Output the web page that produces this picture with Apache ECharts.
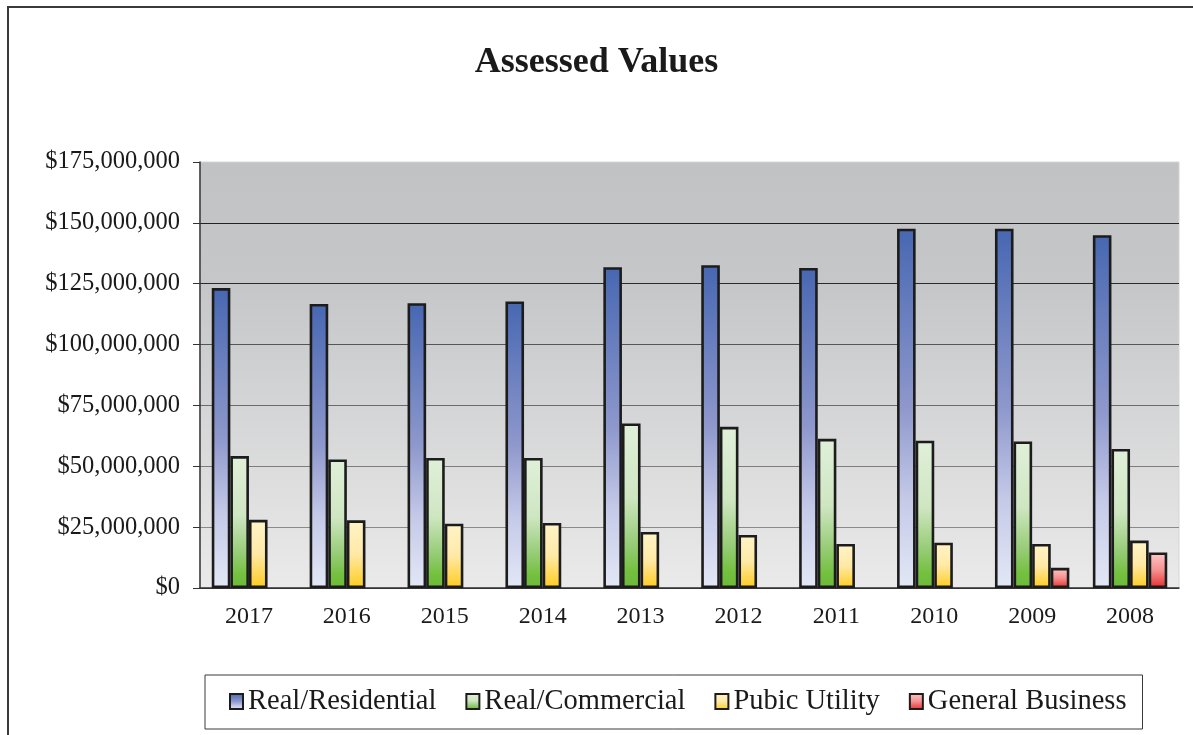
<!DOCTYPE html>
<html>
<head>
<meta charset="utf-8">
<title>Assessed Values</title>
<script src="https://cdn.jsdelivr.net/npm/echarts@6/dist/echarts.min.js"></script>
<style>
html, body {
  margin: 0;
  padding: 0;
  overflow: hidden;
  background: #fff;
}
#box {
  position: absolute;
  left: 0;
  top: 0;
  width: 1193px;
  height: 735px;
}
.frame {
  position: absolute;
  left: 7px;
  top: 6px;
  width: 1300px;
  height: 900px;
  border: 2px solid #3a3a3a;
  pointer-events: none;
}
</style>
</head>
<body>
<div id="box"></div>
<div class="frame"></div>
<script>
// values, in dollars
var years = ['2017', '2016', '2015', '2014', '2013', '2012', '2011', '2010', '2009', '2008'];
var residential = [123200000, 116700000, 117000000, 117700000, 131800000, 132600000, 131500000, 147600000, 147600000, 144900000];
var commercial = [54200000, 52800000, 53400000, 53400000, 67600000, 66200000, 61300000, 60500000, 60200000, 57100000];
var utility = [28000000, 27800000, 26400000, 26700000, 23000000, 21800000, 18100000, 18600000, 18100000, 19500000];
var business = [null, null, null, null, null, null, null, null, 8300000, 14600000];

var font = 'Liberation Serif';

function grad(stops) {
  return new echarts.graphic.LinearGradient(0, 0, 0, 1, stops);
}

function barSeries(name, data, color) {
  return {
    name: name,
    type: 'bar',
    data: data,
    barGap: '0%',
    barCategoryGap: '24%',
    itemStyle: {
      color: color,
      borderColor: '#1c1c1c',
      borderWidth: 2.6
    }
  };
}

var chart = echarts.init(document.getElementById('box'));
var option = {
  animation: false,
  title: {
    text: 'Assessed Values',
    left: 'center',
    top: 40,
    textStyle: {
      fontFamily: font,
      fontSize: 36,
      fontWeight: 'bold',
      color: '#1a1a1a'
    }
  },
  grid: {
    left: 200,
    right: 14,
    top: 162,
    bottom: 147,
    show: true,
    borderColor: '#d4d4d4',
    borderWidth: 1,
    backgroundColor: grad([
      { offset: 0, color: '#c1c2c4' },
      { offset: 0.3, color: '#c6c7c9' },
      { offset: 1, color: '#eaeaea' }
    ])
  },
  legend: {
    left: 205,
    top: 675,
    padding: [12, 16, 13, 24],
    itemGap: 29,
    itemWidth: 13,
    itemHeight: 15,
    icon: 'rect',
    borderColor: '#3a3a3a',
    borderWidth: 1,
    itemStyle: {
      borderColor: '#1c1c1c',
      borderWidth: 2
    },
    textStyle: {
      fontFamily: font,
      fontSize: 28.5,
      color: '#1a1a1a'
    }
  },
  xAxis: {
    type: 'category',
    data: years,
    axisLine: { lineStyle: { color: '#333', width: 1.5 } },
    axisTick: { length: 7, lineStyle: { color: '#333' } },
    axisLabel: {
      margin: 17,
      fontFamily: font,
      fontSize: 24,
      color: '#1a1a1a'
    }
  },
  yAxis: {
    type: 'value',
    min: 0,
    max: 175000000,
    interval: 25000000,
    axisLine: { show: true, lineStyle: { color: '#333', width: 1.5 } },
    axisTick: { show: true, length: 7, lineStyle: { color: '#333' } },
    axisLabel: {
      margin: 20,
      fontFamily: font,
      fontSize: 24.5,
      color: '#1a1a1a',
      formatter: function (v) {
        return '$' + v.toLocaleString('en-US');
      }
    },
    splitLine: {
      show: true,
      lineStyle: {
        width: 1.2,
        color: ['#333', '#8a8a8a', '#7c7c7c', '#6a6a6a', '#555', '#2a2a2a', '#222', 'rgba(0,0,0,0)']
      }
    }
  },
  series: [
    barSeries('Real/Residential', residential, grad([
      { offset: 0, color: '#4767b2' },
      { offset: 0.5, color: '#8e98cc' },
      { offset: 0.75, color: '#c4c9e8' },
      { offset: 1, color: '#e3e8f6' }
    ])),
    barSeries('Real/Commercial', commercial, grad([
      { offset: 0, color: '#e0f0d9' },
      { offset: 0.45, color: '#cfe6c2' },
      { offset: 0.75, color: '#94cb72' },
      { offset: 0.9, color: '#74c03e' },
      { offset: 1, color: '#6cb93c' }
    ])),
    barSeries('Pubic Utility', utility, grad([
      { offset: 0, color: '#fff4c8' },
      { offset: 0.5, color: '#ffe9a6' },
      { offset: 1, color: '#ffcc1e' }
    ])),
    barSeries('General Business', business, grad([
      { offset: 0, color: '#ffc9c9' },
      { offset: 0.5, color: '#f59090' },
      { offset: 1, color: '#e82c2c' }
    ]))
  ]
};
chart.setOption(option);
</script>
</body>
</html>
